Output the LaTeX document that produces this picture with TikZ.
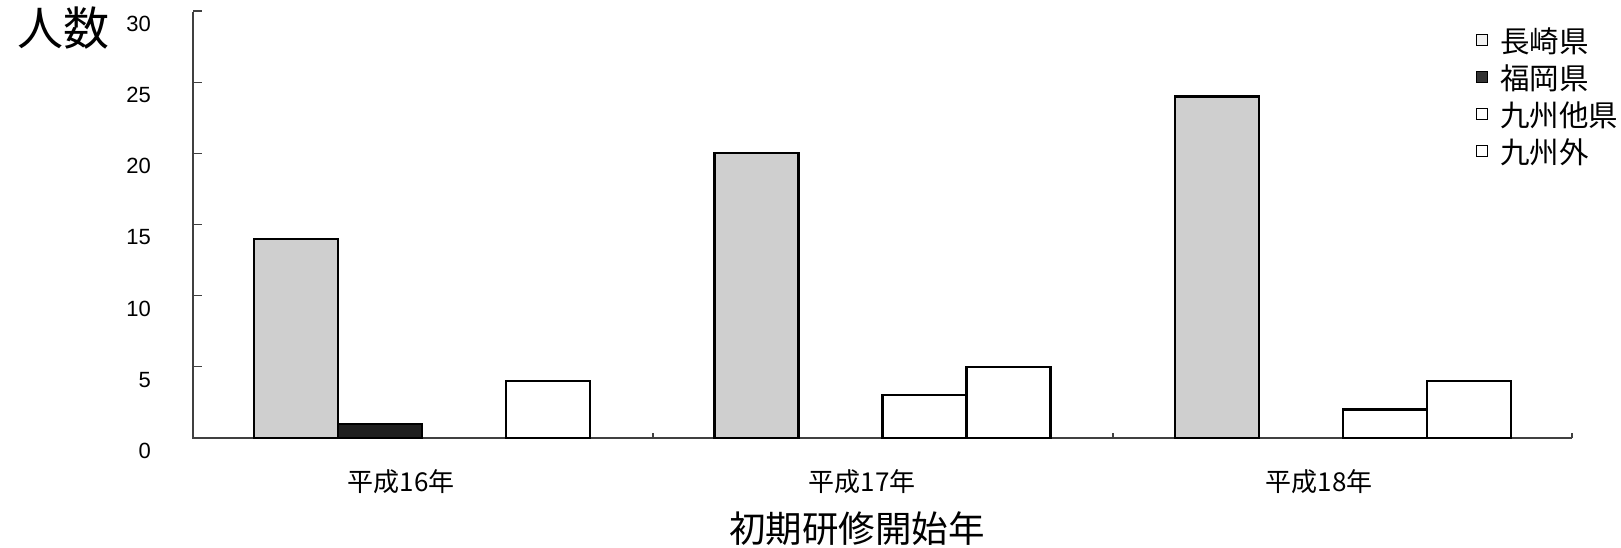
\documentclass[tikz,border=0pt]{standalone}
\usepackage{fontspec}
\setmainfont{Liberation Sans}
\newfontfamily\jp{Noto Sans CJK JP}
\begin{document}
\begin{tikzpicture}[x=1pt,y=-1pt]
\useasboundingbox[fill=white] (0,0) rectangle (1621,547);
\tikzset{
 barbase/.style={draw=black,line width=2.2pt},
 nag/.style={barbase,fill=gray!38},
 fuk/.style={barbase,fill=black!88},
 plain/.style={barbase,fill=white},
 ticklab/.style={font=\fontsize{22}{24}\selectfont, anchor=east, inner sep=0pt},
 cat/.style={font=\jp\fontsize{26}{28}\selectfont, inner sep=0pt},
 leg/.style={font=\jp\fontsize{29.5}{31}\selectfont, anchor=west, inner sep=0pt},
 legbox/.style={draw=black,line width=1.3pt, minimum size=11.5pt, inner sep=0pt},
 axisline/.style={line width=1.1pt, black!75}
}
% axes
\draw[axisline] (193,12) -- (193,438) -- (1572,438);
\foreach \v in {0,5,...,30}{
  \draw[axisline] (193,438-\v*14.233) -- ++(9,0);
  \node[ticklab] (t\v) at (151,451-\v*14.233) {\v};
}
\foreach \xx in {653,1113,1572} \draw[axisline] (\xx,438) -- ++(0,-5);
% bars: group g, series k
\newcommand{\chartbar}[4]{%
  \pgfmathsetmacro{\xa}{254+#1*460.5+#2*84}%
  \pgfmathsetmacro{\xb}{\xa+84}%
  \pgfmathsetmacro{\yt}{438-#3*14.233}%
  \draw[#4] (\xa,438) rectangle (\xb,\yt);}
\chartbar{0}{0}{14}{nag}
\chartbar{0}{1}{1}{fuk}
\chartbar{0}{3}{4}{plain}
\chartbar{1}{0}{20}{nag}
\chartbar{1}{2}{3}{plain}
\chartbar{1}{3}{5}{plain}
\chartbar{2}{0}{24}{nag}
\chartbar{2}{2}{2}{plain}
\chartbar{2}{3}{4}{plain}
% labels
\node[font=\jp\fontsize{46}{48}\selectfont, inner sep=0pt] (ylab) at (63,28) {人数};
\node[cat] (c1) at (401,482) {平成16年};
\node[cat] (c2) at (862,482) {平成17年};
\node[cat] (c3) at (1319,482) {平成18年};
\node[font=\jp\fontsize{36.5}{38}\selectfont, inner sep=0pt] (xlab) at (857,529) {初期研修開始年};
% legend
\node[legbox,fill=gray!10] (k1) at (1482,40) {};
\node[legbox,fill=black!80] (k2) at (1482,77) {};
\node[legbox,fill=white] (k3) at (1482,114) {};
\node[legbox,fill=white] (k4) at (1482,151) {};
\node[leg] (n1) at (1500,41) {長崎県};
\node[leg] (n2) at (1500,78) {福岡県};
\node[leg] (n3) at (1500,115) {九州他県};
\node[leg] (n4) at (1500,152) {九州外};
\end{tikzpicture}
\end{document}
